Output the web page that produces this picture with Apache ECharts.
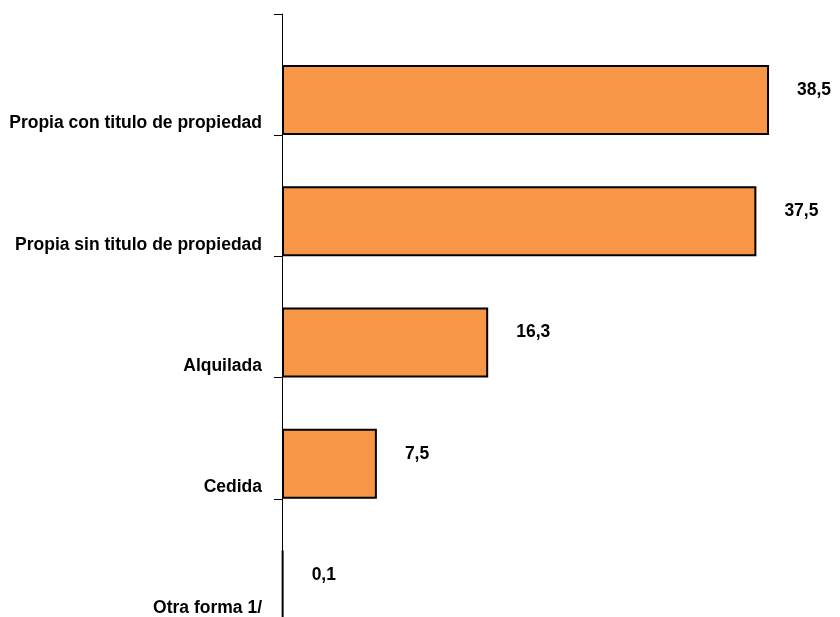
<!DOCTYPE html>
<html>
<head>
<meta charset="utf-8">
<script src="https://cdn.jsdelivr.net/npm/echarts@6/dist/echarts.min.js"></script>
<style>
html,body{margin:0;padding:0;background:#fff;}
#c{width:840px;height:617px;}
</style>
</head>
<body>
<div id="c"></div>
<script>
const categories = ['Propia con titulo de propiedad', 'Propia sin titulo de propiedad', 'Alquilada', 'Cedida', 'Otra forma 1/'];
const values = [38.5, 37.5, 16.3, 7.5, 0.1];

const FONT = "'Liberation Sans', Arial, sans-serif";

const chart = echarts.init(document.getElementById('c'));
chart.setOption({
  animation: false,
  backgroundColor: '#ffffff',
  grid: { left: 282, top: 14, width: 506, height: 606, containLabel: false, outerBoundsMode: 'none' },
  xAxis: {
    type: 'value', min: 0, max: 40,
    show: false,
    splitLine: { show: false }
  },
  yAxis: {
    type: 'category',
    data: categories,
    inverse: true,
    axisLine: { show: true, lineStyle: { color: '#000', width: 1 } },
    axisTick: { show: true, length: 8, lineStyle: { color: '#000', width: 1 } },
    axisLabel: {
      interval: 0,
      margin: 20,
      formatter: v => '{a|' + v + '}',
      rich: {
        a: {
          fontFamily: FONT,
          fontWeight: 'bold',
          fontSize: 17.5,
          color: '#000',
          padding: [98, 0, 0, 0]
        }
      }
    }
  },
  series: [
    {
      type: 'bar',
      data: [],
      barWidth: 51,
      barGap: 0,
      barCategoryGap: 0,
      silent: true
    },
    {
      type: 'bar',
      data: values,
      barWidth: 70,
      barGap: 0,
      barCategoryGap: 0,
      itemStyle: { color: '#F79646', borderColor: '#000', borderWidth: 2 },
      label: {
        show: true,
        position: 'right',
        distance: 28,
        offset: [0, -10],
        fontFamily: FONT,
        fontWeight: 'bold',
        fontSize: 17.5,
        color: '#000',
        formatter: p => String(p.value).replace('.', ',')
      }
    }
  ]
});
</script>
</body>
</html>
